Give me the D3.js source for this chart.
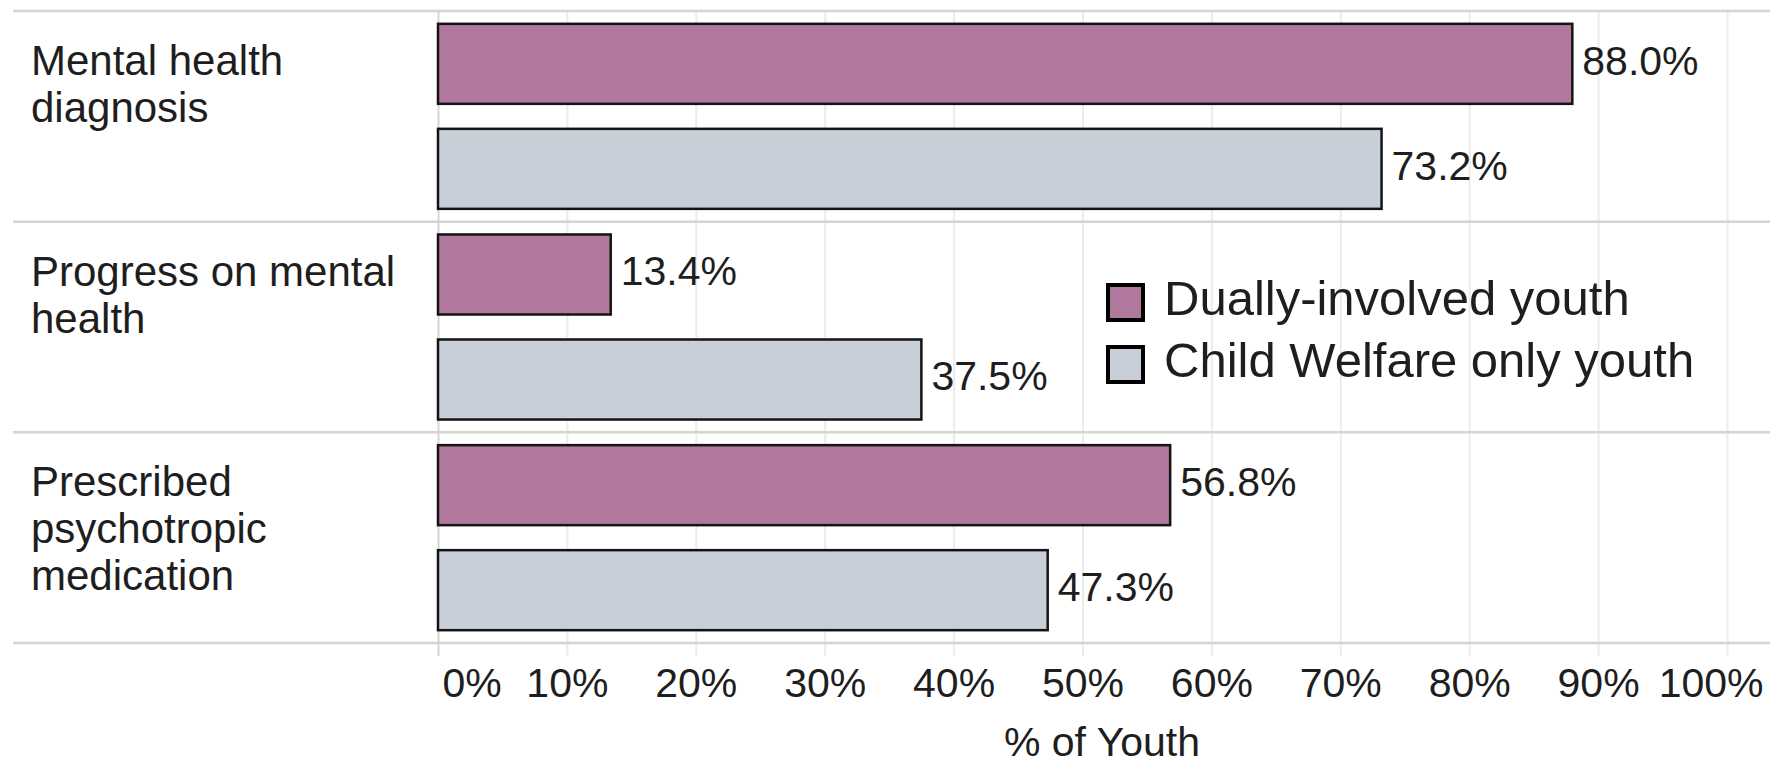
<!DOCTYPE html>
<html>
<head>
<meta charset="utf-8">
<script src="https://cdn.jsdelivr.net/npm/d3@7"></script>
<style>
  html, body { margin: 0; padding: 0; background: #fff; }
  svg text { font-family: "Liberation Sans", Arial, sans-serif; fill: #1e1e1e; }
</style>
</head>
<body>
<div id="chart"></div>
<script>
// data
const categories = ["Mental health diagnosis", "Progress on mental health", "Prescribed psychotropic medication"];
const seriesNames = ["Dually-involved youth", "Child Welfare only youth"];
const duallyValues = [88.0, 13.4, 56.8];
const welfareValues = [73.2, 37.5, 47.3];
const tickValues = [0, 10, 20, 30, 40, 50, 60, 70, 80, 90, 100];
const seriesColors = ["#b0789d", "#c8cfd9"];

const width = 1770;
const height = 765;
const plotTop = 11, plotBottom = 643;
const plotLeft = 438, plotRight = 1727;

const data = categories.map((c, i) => ({
  category: c,
  values: [
    { series: seriesNames[0], value: duallyValues[i] },
    { series: seriesNames[1], value: welfareValues[i] }
  ]
}));

const svg = d3.select("#chart")
  .append("svg")
  .attr("width", width)
  .attr("height", height);

const x = d3.scaleLinear().domain([0, 100]).range([plotLeft, plotRight]);

const y0 = d3.scaleBand()
  .domain(categories)
  .range([plotTop, plotBottom])
  .padding(0);

const y1 = d3.scaleBand()
  .domain(seriesNames)
  .range([0, y0.bandwidth()])
  .paddingInner(0.238)
  .paddingOuter(0.122);

const color = d3.scaleOrdinal().domain(seriesNames).range(seriesColors);

// vertical gridlines + tick labels
const axis = svg.append("g")
  .attr("transform", `translate(0,656)`)
  .call(d3.axisBottom(x)
    .tickValues(tickValues)
    .tickFormat(d => d + "%")
    .tickSizeInner(-(656 - plotTop))
    .tickSizeOuter(0)
    .tickPadding(12));

axis.select(".domain").remove();
axis.selectAll(".tick line")
  .attr("stroke", d => d === 0 ? "#d6d6d6" : "#ececec")
  .attr("stroke-width", 2);
axis.selectAll(".tick text")
  .attr("font-size", 41)
  .attr("fill", "#1e1e1e")
  .style("font-family", "'Liberation Sans', Arial, sans-serif");
// end labels are kept inside the frame
axis.selectAll(".tick text")
  .filter(d => d === 0)
  .attr("text-anchor", "start")
  .attr("x", 4);
axis.selectAll(".tick text")
  .filter(d => d === 100)
  .attr("text-anchor", "end")
  .attr("x", 1763 - x(100));

// horizontal separators
const sepYs = categories.map(c => y0(c)).concat([plotBottom]);
svg.append("g")
  .selectAll("line")
  .data(sepYs)
  .join("line")
  .attr("x1", 13)
  .attr("x2", width)
  .attr("y1", d => d)
  .attr("y2", d => d)
  .attr("stroke", "#d4d4d4")
  .attr("stroke-width", 2.5);

// bars
const groups = svg.append("g")
  .selectAll("g")
  .data(data)
  .join("g")
  .attr("transform", d => `translate(0,${y0(d.category)})`);

groups.selectAll("rect")
  .data(d => d.values)
  .join("rect")
  .attr("x", x(0))
  .attr("y", d => y1(d.series))
  .attr("width", d => x(d.value) - x(0))
  .attr("height", y1.bandwidth())
  .attr("fill", d => color(d.series))
  .attr("stroke", "#141414")
  .attr("stroke-width", 2.5);

groups.selectAll("text.value")
  .data(d => d.values)
  .join("text")
  .attr("class", "value")
  .attr("x", d => x(d.value) + 10)
  .attr("y", d => y1(d.series) + y1.bandwidth() / 2 + 11)
  .attr("font-size", 41)
  .text(d => d.value.toFixed(1) + "%");

// category labels, wrapped, top aligned in each band
const catLabels = svg.append("g")
  .selectAll("text")
  .data(categories)
  .join("text")
  .attr("x", 31)
  .attr("y", d => y0(d) + 64)
  .attr("font-size", 42);

catLabels.each(function(d) {
  const t = d3.select(this);
  const words = d.split(" ");
  let line = [];
  let tspan = t.append("tspan").attr("x", 31).attr("dy", 0);
  words.forEach(w => {
    line.push(w);
    tspan.text(line.join(" "));
    if (tspan.node().getComputedTextLength() > 380 && line.length > 1) {
      line.pop();
      tspan.text(line.join(" "));
      line = [w];
      tspan = t.append("tspan").attr("x", 31).attr("dy", 47).text(w);
    }
  });
});

// axis title
svg.append("text")
  .attr("x", 1102)
  .attr("y", 756)
  .attr("text-anchor", "middle")
  .attr("font-size", 41)
  .text("% of Youth");

// legend
const legend = svg.append("g")
  .attr("transform", "translate(1106,283)");

const items = legend.selectAll("g")
  .data(seriesNames)
  .join("g")
  .attr("transform", (d, i) => `translate(0,${i * 62})`);

items.append("rect")
  .attr("x", 2)
  .attr("y", 2)
  .attr("width", 35)
  .attr("height", 35)
  .attr("fill", d => color(d))
  .attr("stroke", "#000")
  .attr("stroke-width", 4);

items.append("text")
  .attr("x", 58)
  .attr("y", 32)
  .attr("font-size", 49)
  .attr("fill", "#000")
  .text(d => d);
</script>
</body>
</html>
